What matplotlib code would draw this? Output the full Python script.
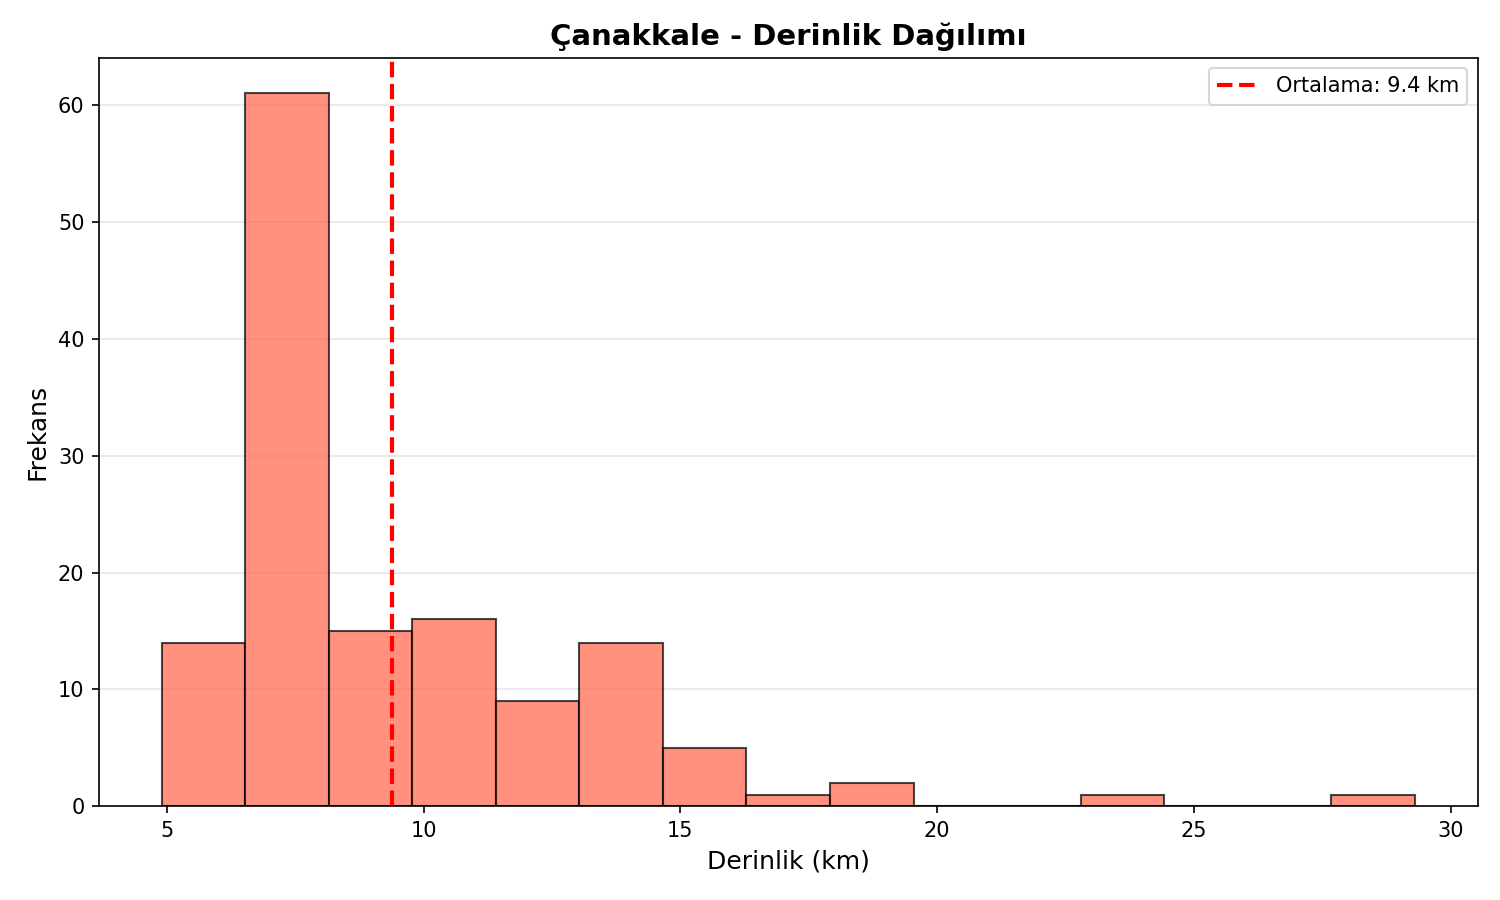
import numpy as np
import matplotlib
matplotlib.use('Agg')
import matplotlib.pyplot as plt

# histogram (15 bins)
depth_min = 4.9
depth_max = 29.3
counts = [14, 61, 15, 16, 9, 14, 5, 1, 2, 0, 0, 1, 0, 0, 1]
mean_depth = 9.38

edges = np.linspace(depth_min, depth_max, len(counts) + 1)

fig, ax = plt.subplots(figsize=(10, 6), dpi=150)
ax.hist(edges[:-1], bins=edges, weights=counts, color='tomato',
        alpha=0.7, edgecolor='black', linewidth=1)
ax.axvline(mean_depth, color='red', linestyle='--', linewidth=2,
           label=f'Ortalama: {mean_depth:.1f} km')

ax.set_title('Çanakkale - Derinlik Dağılımı', fontsize=14, fontweight='bold')
ax.set_xlabel('Derinlik (km)', fontsize=12)
ax.set_ylabel('Frekans', fontsize=12)
ax.grid(axis='y', alpha=0.3)
ax.set_axisbelow(True)
ax.legend(loc='upper right')

fig.subplots_adjust(left=0.066, right=0.985, top=0.936, bottom=0.104)
plt.savefig('out.png')
